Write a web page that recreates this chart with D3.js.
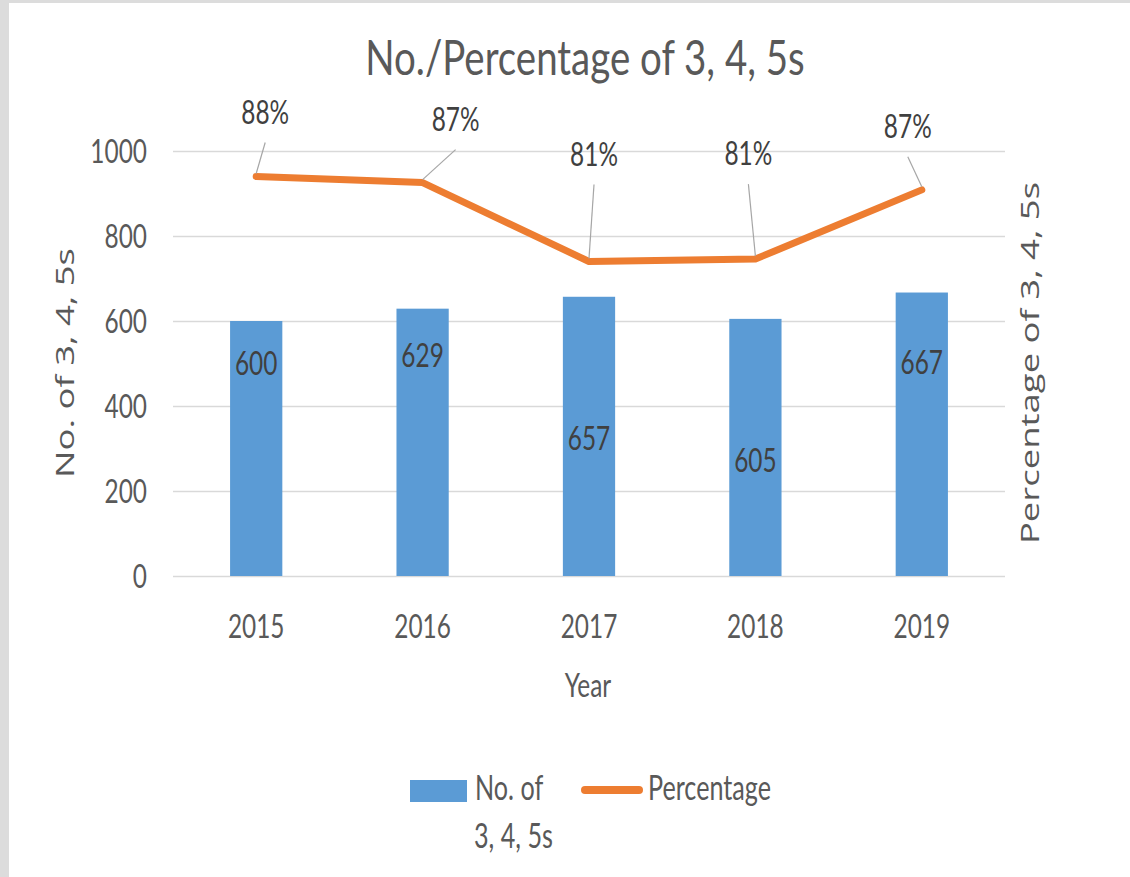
<!DOCTYPE html>
<html>
<head>
<meta charset="utf-8">
<script src="https://cdn.jsdelivr.net/npm/d3@7"></script>
<style>
  html, body { margin: 0; padding: 0; background: #fff; }
  svg { display: block; }
</style>
</head>
<body>
<div id="chart"></div>
<script>
// data
const years = ["2015", "2016", "2017", "2018", "2019"];
const counts = [600, 629, 657, 605, 667];
const percentages = [0.879, 0.874, 0.809, 0.811, 0.868];
const countTicks = [0, 200, 400, 600, 800, 1000];

// where the labels were dragged to (pixels, relative to bar top / line point)
const countLabelNudge = [54, 58, 153, 153, 81];
const pctLabelNudge = [[9, -53], [33, -52], [5, -96], [-7, -94], [-14, -52]];

const width = 1130, height = 877;
const margin = { top: 151, right: 125, bottom: 301, left: 173 };
const SX = 0.74; // narrow look of the original font
const grey = "#595959", dark = "#404040";

let svg = d3.select("#chart")
    .append("svg")
    .attr("width", width)
    .attr("height", height);

// frame edges of the screenshot
svg.append("rect").attr("x", 0).attr("y", 0).attr("width", 9).attr("height", height).attr("fill", "#dcdcdc");
svg.append("rect").attr("x", 0).attr("y", 0).attr("width", width).attr("height", 3).attr("fill", "#dcdcdc");

let x = d3.scaleBand()
    .domain(years)
    .range([margin.left, width - margin.right])
    .paddingInner(0.686)
    .paddingOuter(0.343);

let y = d3.scaleLinear().domain([0, 1000]).range([height - margin.bottom, margin.top]);
let y2 = d3.scaleLinear().domain([0.55, 0.90]).range([height - margin.bottom, margin.top]);

function narrowText(g, px, py, str, size, color, anchor, sx) {
    return g.append("text")
        .attr("transform", `translate(${px},${py}) scale(${sx || SX},1)`)
        .attr("text-anchor", anchor || "middle")
        .attr("font-family", "Lato, 'Open Sans', sans-serif")
        .attr("font-size", size)
        .attr("fill", color)
        .text(str);
}

// gridlines
svg.append("g")
    .attr("transform", `translate(${margin.left},0)`)
    .call(d3.axisLeft(y).tickValues(countTicks).tickSize(-(width - margin.left - margin.right)).tickFormat(""))
    .call(g => g.select(".domain").remove())
    .call(g => g.selectAll("line").attr("stroke", "#d9d9d9").attr("stroke-width", 1.5));

// left axis labels
svg.append("g")
    .attr("transform", `translate(${margin.left},0)`)
    .call(d3.axisLeft(y).tickValues(countTicks).tickFormat(d3.format("d")).tickSize(0).tickPadding(26 / SX))
    .call(g => g.select(".domain").remove())
    .call(g => g.selectAll("text")
        .attr("transform", `scale(${SX},1)`)
        .attr("dy", "0.36em")
        .attr("font-family", "Lato, 'Open Sans', sans-serif")
        .attr("font-size", 33)
        .attr("fill", grey));

// bottom axis labels
svg.append("g")
    .attr("transform", `translate(0,${height - margin.bottom})`)
    .call(d3.axisBottom(x).tickSize(0))
    .call(g => g.select(".domain").remove())
    .call(g => g.selectAll("text")
        .attr("transform", `scale(${SX},1)`)
        .attr("y", 62)
        .attr("dy", null)
        .attr("font-family", "Lato, 'Open Sans', sans-serif")
        .attr("font-size", 33)
        .attr("fill", grey));

// bars
svg.selectAll(".bar")
    .data(counts)
    .enter()
    .append("rect")
    .attr("class", "bar")
    .attr("x", (d, i) => x(years[i]))
    .attr("y", d => y(d))
    .attr("width", x.bandwidth())
    .attr("height", d => y(0) - y(d))
    .attr("fill", "#5b9bd5");

counts.forEach((d, i) => {
    narrowText(svg, x(years[i]) + x.bandwidth() / 2, y(d) + countLabelNudge[i], d, 33, dark);
});

// percentage line
let cx = i => x(years[i]) + x.bandwidth() / 2;

svg.append("path")
    .datum(percentages)
    .attr("fill", "none")
    .attr("stroke", "#ed7d31")
    .attr("stroke-width", 7)
    .attr("stroke-linejoin", "round")
    .attr("stroke-linecap", "round")
    .attr("d", d3.line()
        .x((d, i) => cx(i))
        .y(d => y2(d)));

// callouts with leader lines
percentages.forEach((d, i) => {
    let px = cx(i), py = y2(d);
    let lx = px + pctLabelNudge[i][0], ly = py + pctLabelNudge[i][1];
    svg.append("line")
        .attr("x1", px).attr("y1", py - 3)
        .attr("x2", lx).attr("y2", ly + 19)
        .attr("stroke", "#a6a6a6")
        .attr("stroke-width", 1.2);
    narrowText(svg, lx, ly, d3.format(".0%")(d), 33, dark);
});

// titles
narrowText(svg, 585, 75, "No./Percentage of 3, 4, 5s", 49, grey, "middle", 0.785);
narrowText(svg, 588, 697, "Year", 33, grey);

svg.append("text")
    .attr("transform", `translate(74,363) rotate(-90) scale(1.46,1)`)
    .attr("text-anchor", "middle")
    .attr("font-family", "'Open Sans', sans-serif")
    .attr("font-size", 25)
    .attr("fill", grey)
    .text("No. of 3, 4, 5s");

svg.append("text")
    .attr("transform", `translate(1039,363) rotate(-90) scale(1.46,1)`)
    .attr("text-anchor", "middle")
    .attr("font-family", "'Open Sans', sans-serif")
    .attr("font-size", 25)
    .attr("fill", grey)
    .text("Percentage of 3, 4, 5s");

// legend
let legend = svg.append("g");
legend.append("rect")
    .attr("x", 410).attr("y", 780)
    .attr("width", 57).attr("height", 22)
    .attr("fill", "#5b9bd5");
narrowText(legend, 475, 800, "No. of", 34, grey, "start");
narrowText(legend, 474, 848, "3, 4, 5s", 34, grey, "start");
legend.append("line")
    .attr("x1", 585).attr("x2", 639)
    .attr("y1", 790).attr("y2", 790)
    .attr("stroke", "#ed7d31")
    .attr("stroke-width", 8)
    .attr("stroke-linecap", "round");
narrowText(legend, 648, 800, "Percentage", 34, grey, "start");
</script>
</body>
</html>
